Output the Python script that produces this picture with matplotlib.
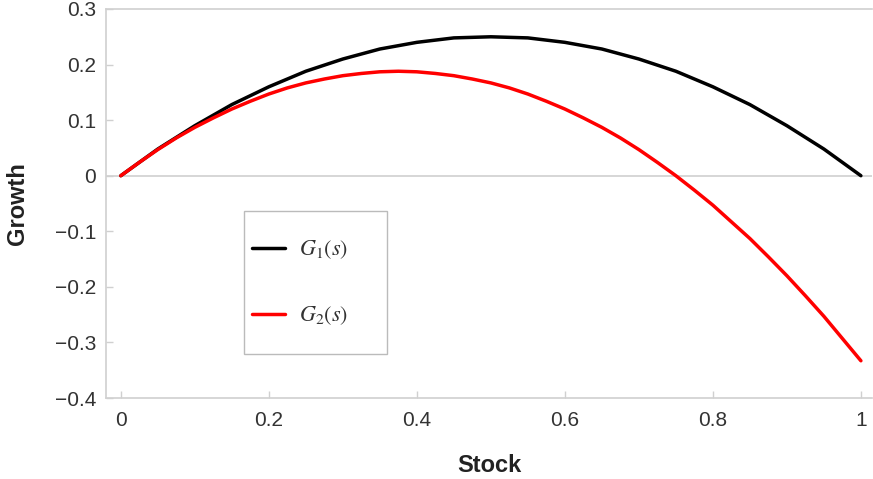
import matplotlib
matplotlib.use("Agg")
from matplotlib import pyplot as plt
from matplotlib.patches import Rectangle

# values, stock from 0 to 1 in steps of 0.025
stock = [0.0, 0.025, 0.05, 0.075, 0.1, 0.125, 0.15, 0.175, 0.2, 0.225, 0.25,
         0.275, 0.3, 0.325, 0.35, 0.375, 0.4, 0.425, 0.45, 0.475, 0.5,
         0.525, 0.55, 0.575, 0.6, 0.625, 0.65, 0.675, 0.7, 0.725, 0.75,
         0.775, 0.8, 0.825, 0.85, 0.875, 0.9, 0.925, 0.95, 0.975, 1.0]
g1 = [0.0, 0.024, 0.048, 0.069, 0.090, 0.109, 0.128, 0.144, 0.160, 0.174, 0.188,
      0.199, 0.210, 0.219, 0.228, 0.234, 0.240, 0.244, 0.248, 0.249, 0.250,
      0.249, 0.248, 0.244, 0.240, 0.234, 0.228, 0.219, 0.210, 0.199, 0.188,
      0.174, 0.160, 0.144, 0.128, 0.109, 0.090, 0.069, 0.048, 0.024, 0.0]
g2 = [0.0, 0.024, 0.047, 0.068, 0.087, 0.104, 0.120, 0.134, 0.147, 0.158, 0.167,
      0.174, 0.180, 0.184, 0.187, 0.188, 0.187, 0.184, 0.180, 0.174, 0.167,
      0.158, 0.147, 0.134, 0.120, 0.104, 0.087, 0.068, 0.047, 0.024, 0.0,
      -0.026, -0.053, -0.083, -0.113, -0.146, -0.180, -0.216, -0.253, -0.293, -0.333]
xticks = [0, 0.2, 0.4, 0.6, 0.8, 1]
yticks = [-0.4, -0.3, -0.2, -0.1, 0, 0.1, 0.2, 0.3]

plt.rcParams['font.family'] = ['Liberation Sans', 'DejaVu Sans']
plt.rcParams['mathtext.fontset'] = 'stix'

fig = plt.figure(figsize=(8.73, 4.79), dpi=100)
ax = fig.add_axes([106/873, 1 - 398/479, 766/873, 389/479])

grey = '#d0d0d0'
ax.axhline(0, color=grey, lw=1.2, zorder=1)
ax.plot(stock, g1, color='black', lw=2.5, label='$G_1(s)$', zorder=3,
        solid_capstyle='round')
ax.plot(stock, g2, color='#ff0000', lw=2.5, label='$G_2(s)$', zorder=3,
        solid_capstyle='round')

ax.set_xlim(-0.02, 1.015)
ax.set_ylim(-0.4, 0.3)
ax.set_xticks(xticks)
ax.set_xticklabels(['0', '0.2', '0.4', '0.6', '0.8', '1'])
ax.set_yticks(yticks)
ax.set_yticklabels(['\u22120.4', '\u22120.3', '\u22120.2', '\u22120.1', '0', '0.1', '0.2', '0.3'])

for side in ['left', 'bottom', 'top']:
    ax.spines[side].set_color(grey)
    ax.spines[side].set_linewidth(1.2)
ax.spines['right'].set_visible(False)
ax.tick_params(axis='both', direction='in', length=5, color=grey, width=1,
               labelsize=15, labelcolor='#333333')
ax.tick_params(axis='x', pad=9)
ax.tick_params(axis='y', pad=7)

ax.set_xlabel('Stock', fontsize=17, fontweight='bold', color='#222222')
ax.set_ylabel('Growth', fontsize=17, fontweight='bold', color='#222222')
ax.xaxis.set_label_coords(0.5, -0.144)
ax.yaxis.set_label_coords(-0.1, 0.5)

# legend box drawn by hand, since its padding is not symmetric
fig.patches.append(Rectangle((244/873, 1 - 354/479), 143/873, 143/479,
                             transform=fig.transFigure, fill=False,
                             edgecolor='#bbbbbb', lw=1.0, zorder=4))
leg = ax.legend(loc='center left', bbox_to_anchor=(252/873, 1 - 283/479),
                bbox_transform=fig.transFigure, fontsize=16, frameon=False,
                handlelength=1.5, handletextpad=0.6,
                labelspacing=1.95, borderpad=0, borderaxespad=0)
for t in leg.get_texts():
    t.set_color('#333333')

fig.savefig('out.png', dpi=100)
